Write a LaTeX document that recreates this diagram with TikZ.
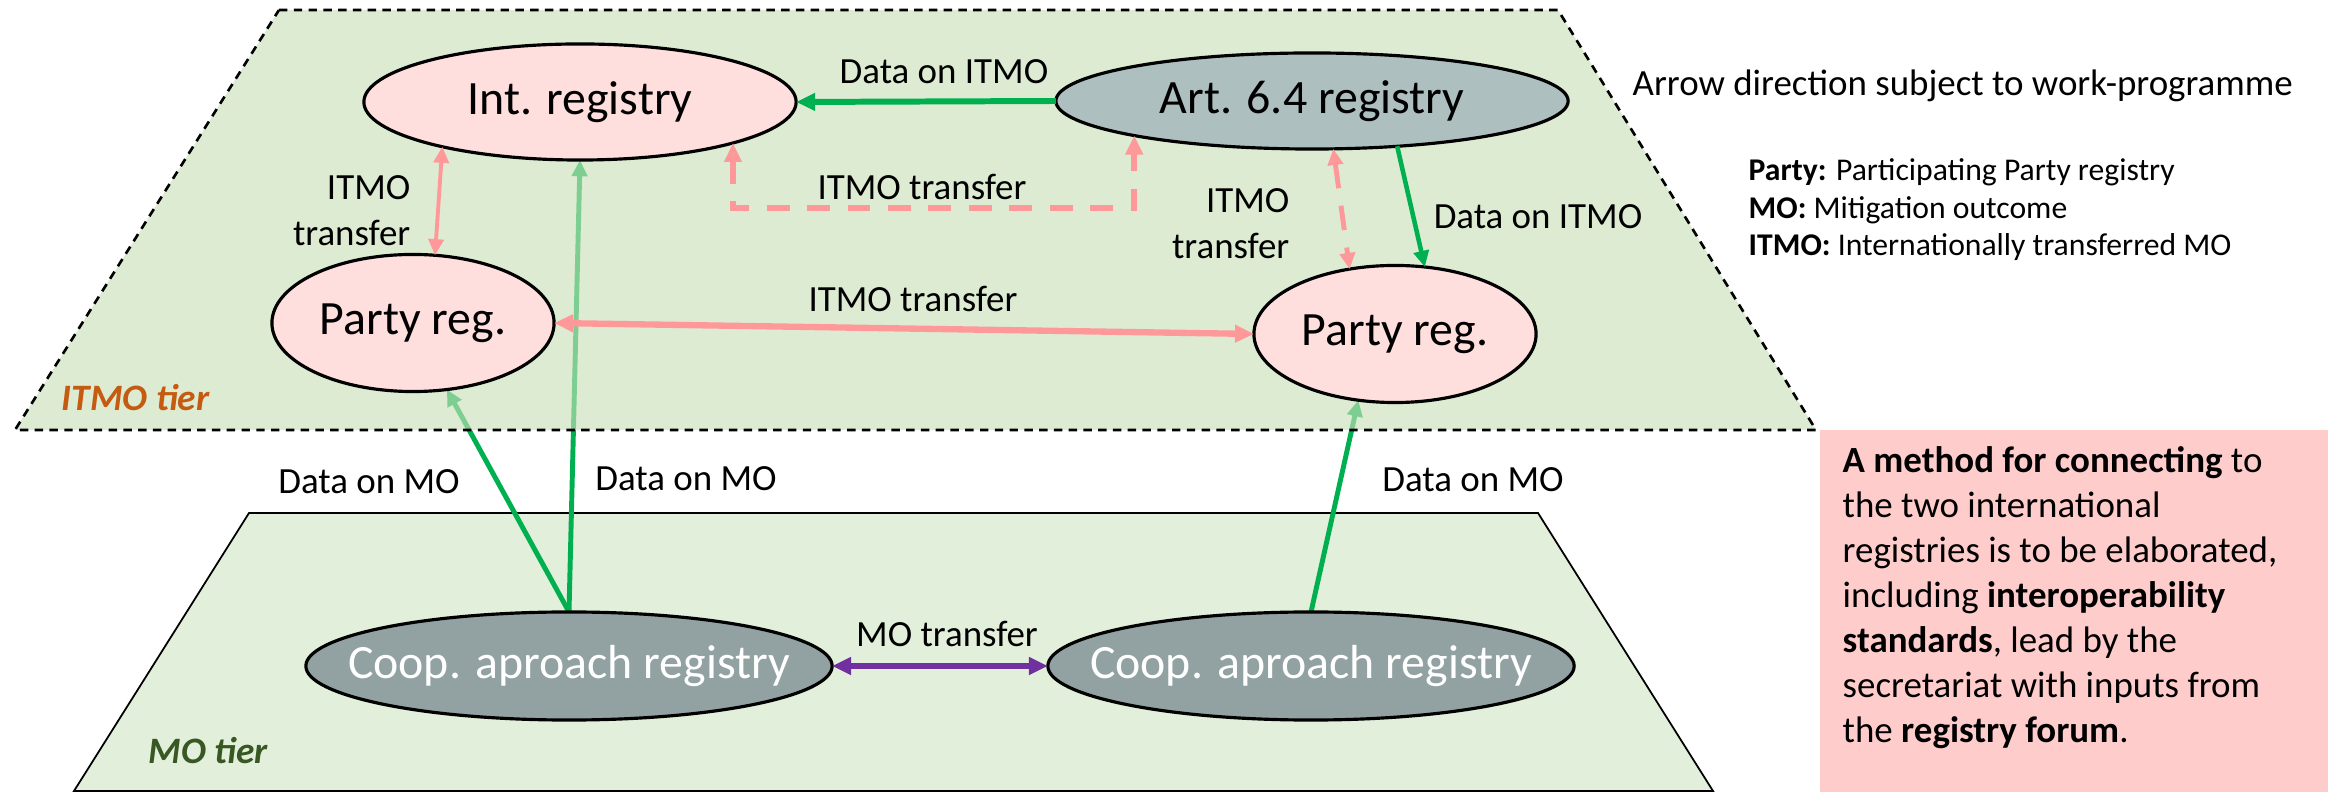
\documentclass[tikz,border=0pt]{standalone}
\usepackage{fontspec}
\setmainfont{Carlito}
\usetikzlibrary{shapes,backgrounds,arrows.meta}

\definecolor{tiergreen}{HTML}{C8E0B8}
\definecolor{mogreen}{HTML}{E2EFDA}
\definecolor{regpink}{HTML}{FFDEDE}
\definecolor{artgray}{HTML}{AEBFC0}
\definecolor{coopgray}{HTML}{92A1A1}
\definecolor{linkpink}{HTML}{FF9999}
\definecolor{linkgreen}{HTML}{00B050}
\definecolor{linkpurple}{HTML}{7030A0}
\definecolor{itmoorange}{HTML}{C55A11}
\definecolor{modarkgreen}{HTML}{385723}
\definecolor{notepink}{HTML}{FFCCCC}

\pgfdeclarelayer{motier}
\pgfdeclarelayer{molinks}
\pgfdeclarelayer{itmotier}
\pgfsetlayers{motier,molinks,itmotier,main}

\begin{document}
\begin{tikzpicture}[x=0.01cm, y=-0.01cm,
        regnode/.style={ellipse, draw, line width=0.9pt, inner sep=0pt, outer sep=0pt,
            fill=regpink, font=\fontsize{13.6}{16}\selectfont},
        coopnode/.style={regnode, fill=coopgray, text=white, minimum width=5.26cm, minimum height=1.08cm},
        linklabel/.style={inner sep=0pt, font=\fontsize{10.5}{13.1}\selectfont},
        tierlabel/.style={inner sep=0pt, anchor=base west, font=\fontsize{10.6}{13}\selectfont\bfseries\itshape},
        itmolink/.style={draw=linkpink},
        datalink/.style={draw=linkgreen},
        bigtip/.tip={Triangle[length=5.4pt, width=4.8pt]},
        smalltip/.tip={Triangle[length=4.6pt, width=4.3pt]}
    ]
            \useasboundingbox (0,0) rectangle (2328,792);

            \def\itmotier{(279,10) -- (1558,10) -- (1816,430) -- (15,430) -- cycle}
            \def\motier{(249,513) -- (1538,513) -- (1713,791) -- (74,791) -- cycle}

            \node[regnode, minimum width=4.32cm, minimum height=1.16cm] (int) at (580,102) {Int. registry};
            \node[regnode, fill=artgray, minimum width=5.12cm, minimum height=0.96cm] (art) at (1312,101) {Art. 6.4 registry};
            \node[regnode, minimum width=2.82cm, minimum height=1.37cm] (pl) at (413,323) {Party reg.};
            \node[regnode, minimum width=2.82cm, minimum height=1.37cm] (pr) at (1395,334) {Party reg.};
            \node[coopnode] (cl) at (569,666) {\makebox[0pt]{Coop. aproach registry}};
            \node[coopnode] (cr) at (1311,666) {\makebox[0pt]{Coop. aproach registry}};

            \begin{pgfonlayer}{motier}
                \filldraw[fill=mogreen, draw=black, line width=0.5pt] \motier;
            \end{pgfonlayer}

            \begin{pgfonlayer}{molinks}
                \draw[datalink, line width=1.4pt, -smalltip] (cl.north) -- (pl.-63);
                \draw[datalink, line width=1.4pt, -smalltip] (cl.north) -- (int.south);
                \draw[datalink, line width=1.4pt, -smalltip] (cr.north) -- (pr.-119);
            \end{pgfonlayer}

            \begin{pgfonlayer}{itmotier}
                \fill[tiergreen, fill opacity=0.63] \itmotier;
                \draw[line width=0.75pt, dash pattern=on 2.4pt off 1.8pt] \itmotier;
            \end{pgfonlayer}

            \draw[datalink, line width=1.7pt, -bigtip] (art.west) -- (int.east);
            \draw[datalink, line width=1.3pt, -smalltip] (art.-28) -- (pr.66);
            \draw[itmolink, line width=1.1pt, smalltip-smalltip] (int.198) -- (pl.72);
            \draw[itmolink, line width=1.8pt, dash pattern=on 6.5pt off 5pt, bigtip-bigtip]
                (int.-15) -- ++(0,65) -| (art.191);
            \draw[itmolink, line width=1.4pt, dash pattern=on 7pt off 5pt, smalltip-smalltip] (art.-66) -- (pr.125);
            \draw[itmolink, line width=1.8pt, bigtip-bigtip] (pl.east) -- (pr.west);
            \draw[draw=linkpurple, line width=1.8pt, bigtip-bigtip] (cl.east) -- (cr.west);

            \node[linklabel, anchor=base] (artintlbl) at (944,84) {Data on ITMO};
            \node[linklabel, anchor=north east, align=right] (intpllbl) at (411,175) {ITMO\\transfer};
            \node[linklabel, anchor=base] (elbowlbl) at (922,200) {ITMO transfer};
            \node[linklabel, anchor=north east, align=right] (artprlbl) at (1290,188) {ITMO\\transfer};
            \node[linklabel, anchor=base] (datalbl) at (1538,229) {Data on ITMO};
            \node[linklabel, anchor=base] (plprlbl) at (913,312) {ITMO transfer};
            \node[linklabel, anchor=base] (moplbl) at (369,494) {Data on MO};
            \node[linklabel, anchor=base] (mointlbl) at (686,491) {Data on MO};
            \node[linklabel, anchor=base] (moprlbl) at (1473,492) {Data on MO};
            \node[linklabel, anchor=base] (motrlbl) at (947,647) {MO transfer};

            \node[tierlabel, text=itmoorange] (itmotierlbl) at (61,411) {ITMO tier};
            \node[tierlabel, text=modarkgreen] (motierlbl) at (148,764) {MO tier};

            \node[linklabel, anchor=base west] (dirnote) at (1632,96) {Arrow direction subject to work-programme};
            \node[inner sep=0pt, anchor=north west, align=left, font=\fontsize{9}{10.7}\selectfont] (legend) at (1748,158)
                {\textbf{Party:} Participating Party registry\\
                 \textbf{MO:} Mitigation outcome\\
                 \textbf{ITMO:} Internationally transferred MO};

            \fill[notepink] (1820,430) rectangle (2328,792);
            \node[inner sep=0pt, anchor=north west, align=left, font=\fontsize{10.5}{12.8}\selectfont] (method) at (1842,446)
                {\textbf{A method for connecting} to\\
                 the two international\\
                 registries is to be elaborated,\\
                 including \textbf{interoperability}\\
                 \textbf{standards}, lead by the\\
                 secretariat with inputs from\\
                 the \textbf{registry forum}.};
        \end{tikzpicture}
\end{document}
